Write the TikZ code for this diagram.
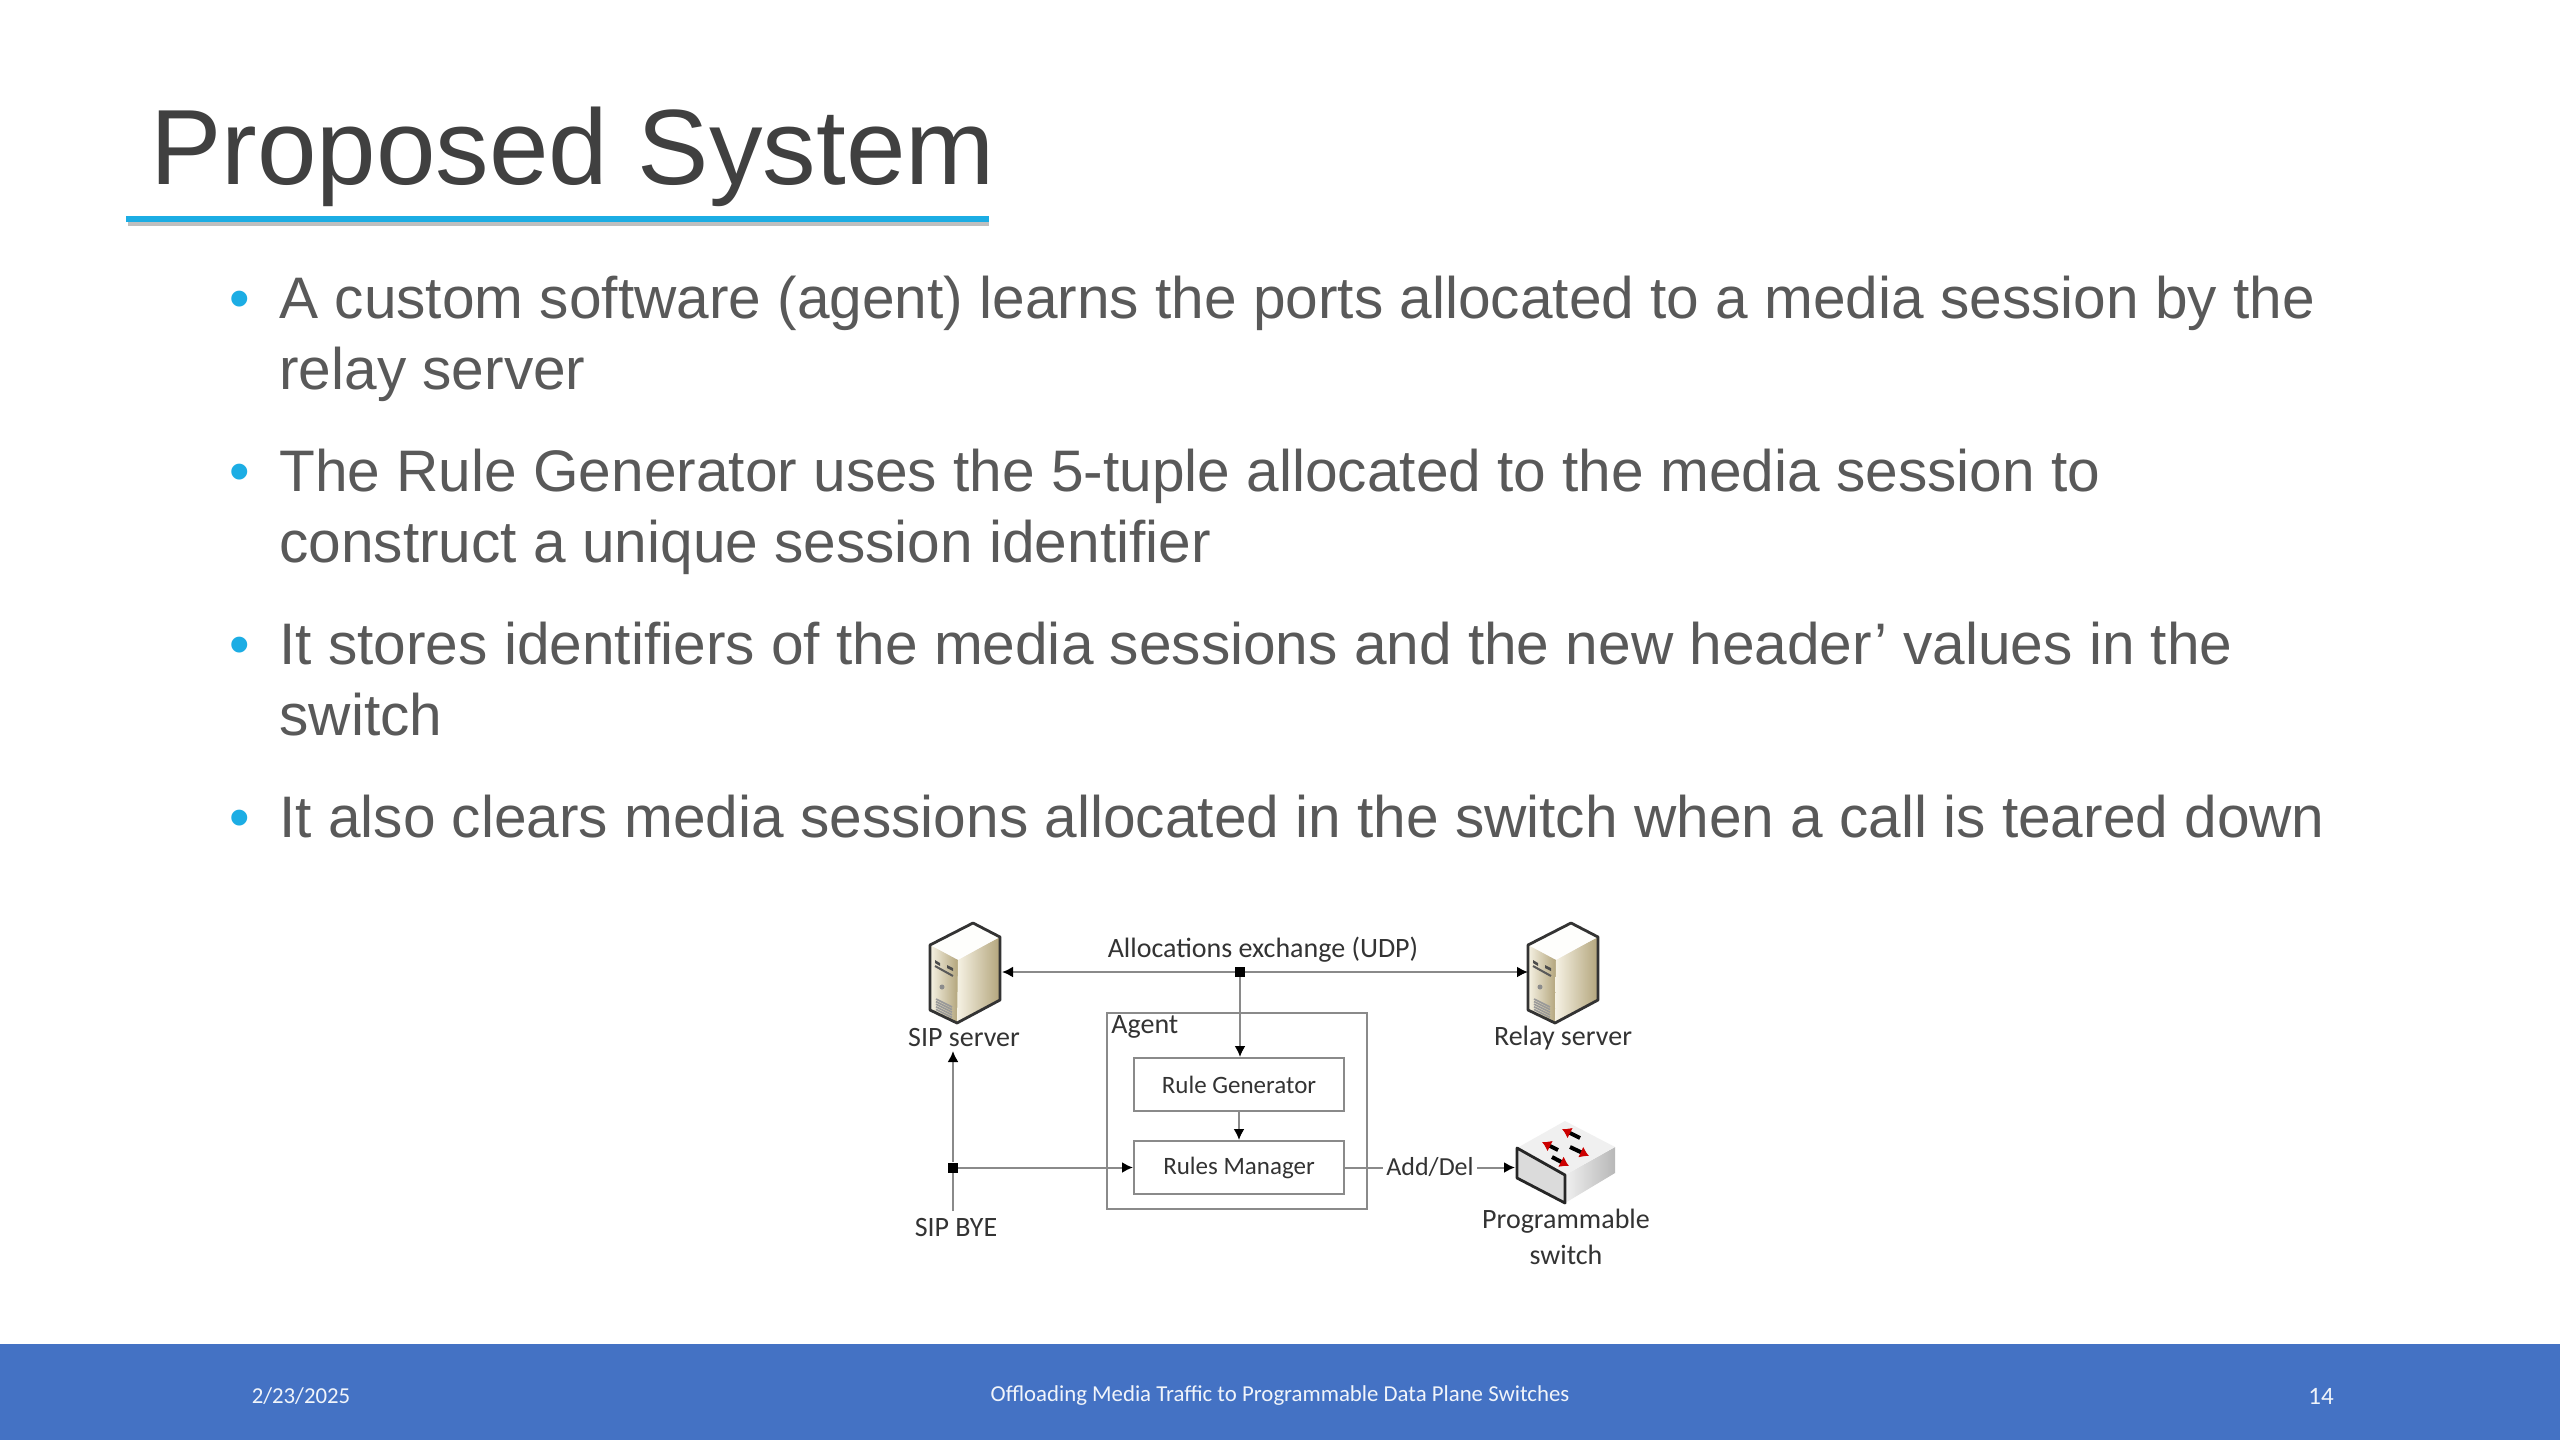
\documentclass[tikz,border=0pt]{standalone}
\usepackage{fontspec}
\usetikzlibrary{arrows.meta,shadings}
\setmainfont{Liberation Sans}
\newfontfamily\figfont{Carlito}
\definecolor{accentblue}{HTML}{1CADE4}
\definecolor{footblue}{HTML}{4472C4}
\definecolor{titlegrey}{HTML}{404040}
\definecolor{bodygrey}{HTML}{595959}
\definecolor{figtext}{HTML}{333333}
\definecolor{wire}{HTML}{8A8A8A}
\definecolor{tanlight}{HTML}{F6F2E4}
\definecolor{tandark}{HTML}{B3A57C}
\tikzset{
  x=0.5pt,y=-0.5pt,
  titletext/.style={inner sep=0pt,anchor=base west,text=titlegrey,font=\fontsize{53.5}{60}\selectfont},
  bodytext/.style={inner sep=0pt,anchor=north west,align=left,text=bodygrey,font=\fontsize{29.3}{35.3}\selectfont},
  bulletmark/.style={inner sep=0pt,anchor=base,text=accentblue,font=\fontsize{29.3}{35.3}\selectfont},
  foottext/.style={inner sep=0pt,text=white!92!footblue,font=\figfont\fontsize{11.4}{14}\selectfont},
  figlabel/.style={inner sep=0pt,text=figtext,align=center,font=\figfont\fontsize{14}{17}\selectfont},
  boxlabel/.style={draw=wire,line width=1pt,fill=white,inner sep=0pt,text=figtext,font=\figfont\fontsize{12.5}{15}\selectfont,minimum width=105pt,minimum height=26.5pt},
  wireline/.style={draw=wire,line width=1pt},
  wirearrow/.style={wireline,-{Latex[length=5.5pt,width=5.5pt,color=black]}},
  junction/.style={fill=black,inner sep=0pt,minimum size=5pt},
  redhead/.style={line width=2pt,draw=black,-{Latex[length=4.5pt,width=6pt,color=red!80!black]}},
  pics/servertower/.style={code={
    \shade[left color=tanlight,right color=tandark] (0,0) -- (28,15) -- (28,78) -- (0,65) -- cycle;
    \shade[left color=tanlight,right color=tandark] (28,15) -- (70,-8) -- (70,55) -- (27,78) -- cycle;
    \fill[white!90!tanlight] (0,0) -- (43,-22) -- (70,-8) -- (28,13) -- cycle;
    \draw[black!80,line width=1.4pt,line join=round] (0,0) -- (43,-22) -- (70,-8) -- (70,55) -- (27,78) -- (0,65) -- cycle;
    \fill[black!70] (5,15) -- (10,18) -- (10,21) -- (5,18) -- cycle;
    \fill[black!70] (17,20) -- (23,23) -- (23,26) -- (17,23) -- cycle;
    \draw[black!65,line width=1pt] (5,21) -- (23,31);
    \fill[black!45] (12,42) circle (2.5);
    \foreach \k in {0,1,2,3,4}{\draw[black!40,line width=.8pt] (6,54+\k*2.6) -- (22,62+\k*2.6);}
  }},
}
\begin{document}
\begin{tikzpicture}
\useasboundingbox (0,0) rectangle (2560,1440);
\fill[white] (0,0) rectangle (2560,1440);

% title
\node[titletext] (title) at (150,184) {Proposed System};
\fill[black!25] (128,222) rectangle (989,226);
\fill[accentblue] (126,216) rectangle (989,222);

% bullets
\node[bulletmark] (b1) at (240,318) {•};
\node[bodytext] (t1) at (279,268.6) {\strut A custom software (agent) learns the ports allocated to a media session by the\\relay server};
\node[bulletmark] (b2) at (240,491) {•};
\node[bodytext] (t2) at (279,441.6) {\strut The Rule Generator uses the 5-tuple allocated to the media session to\\construct a unique session identifier};
\node[bulletmark] (b3) at (240,664) {•};
\node[bodytext] (t3) at (279,614.6) {\strut It stores identifiers of the media sessions and the new header’ values in the\\switch};
\node[bulletmark] (b4) at (240,837) {•};
\node[bodytext] (t4) at (279,787.6) {\strut It also clears media sessions allocated in the switch when a call is teared down};

% footer
\fill[footblue] (0,1344) rectangle (2560,1440);
\node[foottext] (fdate) at (301,1396) {2/23/2025};
\node[foottext] (ftitle) at (1280,1396) {Offloading Media Traffic to Programmable Data Plane Switches};
\node[foottext,font=\figfont\fontsize{12.5}{15}\selectfont] (fnum) at (2321,1396) {14};

% server icons
\pic at (930,945) {servertower};
\pic at (1528,945) {servertower};

% programmable switch icon
\shade[left color=black!6,right color=black!28] (1565,1175) -- (1615,1147) -- (1615,1173) -- (1565,1203) -- cycle;
\fill[black!6] (1517,1148) -- (1565,1121) -- (1615,1147) -- (1565,1175) -- cycle;
\fill[black!14] (1517,1148) -- (1565,1175) -- (1565,1203) -- (1517,1178) -- cycle;
\draw[black!85,line width=1.4pt,line join=round] (1517,1148) -- (1565,1175) -- (1565,1203) -- (1517,1178) -- cycle;
\draw[redhead] (1580,1138) -- (1562,1129);
\draw[redhead] (1558,1150) -- (1542,1142);
\draw[redhead] (1570,1147) -- (1589,1156);
\draw[redhead] (1552,1157) -- (1569,1166);

% agent
\node[draw=wire,line width=1pt,inner sep=0pt,minimum width=130pt,minimum height=98pt] (agent) at (1237,1111) {};
\node[figlabel,anchor=west] (agentlabel) at (1111,1027) {Agent};
\node[boxlabel] (rulegen) at (1239,1084.5) {Rule Generator};
\node[boxlabel] (rulesman) at (1239,1167.5) {Rules Manager};

% labels
\node[figlabel] (alloc) at (1263,950) {Allocations exchange (UDP)};
\node[figlabel] (sipserver) at (964,1038) {SIP server};
\node[figlabel] (relayserver) at (1563,1038) {Relay server};
\node[figlabel] (sipbye) at (956,1227) {SIP BYE};
\node[figlabel] (progsw) at (1566,1237) {Programmable\\[1pt]switch};

% connector ends
\coordinate (sipport) at (1002,972);
\coordinate (relayport) at (1528,972);
\coordinate (swport) at (1515,1167.5);
\coordinate (byefoot) at (953,1211);
\coordinate (sipfoot) at (953,1051);

% junctions and connectors
\node[junction] (j1) at (1240,972) {};
\node[junction] (j2) at (953,1167.5) {};
\draw[wirearrow] (j1) -- (sipport);
\draw[wirearrow] (j1) -- (relayport);
\draw[wirearrow] (j1) -- (rulegen.north -| j1);
\draw[wirearrow] (rulegen) -- (rulesman);
\draw[wireline] (byefoot) -- (j2);
\draw[wirearrow] (j2) -- (sipfoot);
\draw[wirearrow] (j2) -- (rulesman);
\draw[wirearrow] (rulesman) -- node[fill=white,inner sep=1.5pt,text=figtext,font=\figfont\fontsize{13}{15}\selectfont] (adddel) {Add/Del} (swport);
\end{tikzpicture}
\end{document}
